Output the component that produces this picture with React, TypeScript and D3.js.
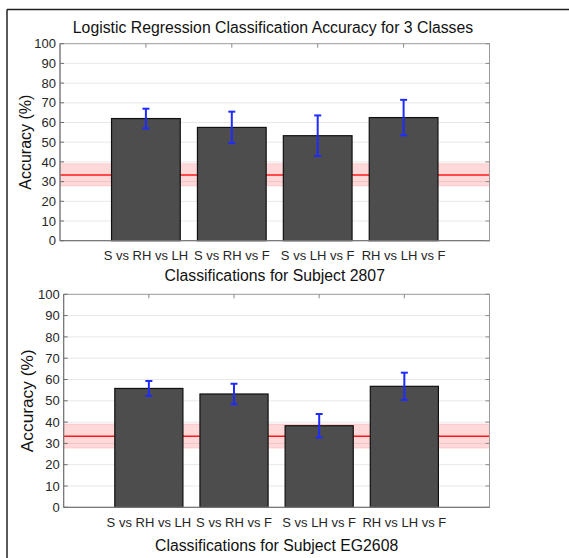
import React, { useEffect, useRef } from 'react';
import * as d3 from 'd3';

const categories = ['S vs RH vs LH', 'S vs RH vs F', 'S vs LH vs F', 'RH vs LH vs F'];
const yTicks = [0, 10, 20, 30, 40, 50, 60, 70, 80, 90, 100];

// subject 2807
const acc2807 = [62, 57.5, 53.3, 62.5];
const err2807 = [5, 8, 10.3, 9];
// subject EG2608
const accEG2608 = [55.8, 53.2, 38.3, 56.8];
const errEG2608 = [3.5, 4.8, 5.5, 6.4];

const chance = 33.33;
const chanceBand = [27.8, 39.1];

const FONT = '"Liberation Sans", Arial, sans-serif';

const App = () => {
    const ref = useRef<SVGSVGElement>(null);

    const panel = (svgCanvas, opts) => {
        const { left, right, top, bottom, values, errs, xLabel, xLabelY, tickY, yLabelX, labelSize, yLabelSize } = opts;

        const x = d3.scaleLinear().domain([0, categories.length + 1]).range([left, right]);
        const y = d3.scaleLinear().domain([0, 100]).range([bottom, top]);
        const step = x(1) - x(0);
        const bw = step * 0.8;

        const g = svgCanvas.append('g');

        g.append('rect')
            .attr('x', left).attr('y', top)
            .attr('width', right - left).attr('height', bottom - top)
            .attr('fill', '#fff');

        // grid
        g.selectAll('line.grid')
            .data(yTicks.slice(1, -1))
            .enter().append('line')
            .attr('class', 'grid')
            .attr('x1', left).attr('x2', right)
            .attr('y1', d => y(d)).attr('y2', d => y(d))
            .attr('stroke', '#e8e8e8').attr('stroke-width', 1);

        // chance band + line
        g.append('rect')
            .attr('x', left).attr('width', right - left)
            .attr('y', y(chanceBand[1])).attr('height', y(chanceBand[0]) - y(chanceBand[1]))
            .attr('fill', '#ff0000').attr('fill-opacity', 0.15)
            .attr('stroke', '#ff0000').attr('stroke-opacity', 0.12);
        g.append('line')
            .attr('x1', left).attr('x2', right)
            .attr('y1', y(chance)).attr('y2', y(chance))
            .attr('stroke', '#ff1a1a').attr('stroke-width', 1.5);

        // bars
        g.selectAll('rect.bar')
            .data(values)
            .enter().append('rect')
            .attr('class', 'bar')
            .attr('x', (d, i) => x(i + 1) - bw / 2)
            .attr('width', bw)
            .attr('y', d => y(d))
            .attr('height', d => y(0) - y(d))
            .attr('fill', '#4d4d4d')
            .attr('stroke', '#111').attr('stroke-width', 1.2);

        // error bars
        const eb = g.selectAll('g.err')
            .data(values.map((v, i) => ({ v, e: errs[i], i })))
            .enter().append('g').attr('class', 'err')
            .attr('stroke', '#1f2bff').attr('stroke-width', 2);
        eb.append('line')
            .attr('x1', d => x(d.i + 1)).attr('x2', d => x(d.i + 1))
            .attr('y1', d => y(d.v - d.e)).attr('y2', d => y(d.v + d.e));
        eb.append('line')
            .attr('x1', d => x(d.i + 1) - 3.5).attr('x2', d => x(d.i + 1) + 3.5)
            .attr('y1', d => y(d.v + d.e)).attr('y2', d => y(d.v + d.e));
        eb.append('line')
            .attr('x1', d => x(d.i + 1) - 3.5).attr('x2', d => x(d.i + 1) + 3.5)
            .attr('y1', d => y(d.v - d.e)).attr('y2', d => y(d.v - d.e));

        // box
        g.append('rect')
            .attr('x', left).attr('y', top)
            .attr('width', right - left).attr('height', bottom - top)
            .attr('fill', 'none').attr('stroke', '#9a9a9a').attr('stroke-width', 1);
        g.append('line')
            .attr('x1', left).attr('x2', left).attr('y1', top).attr('y2', bottom)
            .attr('stroke', '#6e6e6e');
        g.append('line')
            .attr('x1', left).attr('x2', right).attr('y1', bottom).attr('y2', bottom)
            .attr('stroke', '#6e6e6e');

        // ticks inward
        g.selectAll('line.ytl').data(yTicks).enter().append('line')
            .attr('x1', left).attr('x2', left + 4)
            .attr('y1', d => y(d)).attr('y2', d => y(d))
            .attr('stroke', '#6e6e6e');
        g.selectAll('line.ytr').data(yTicks).enter().append('line')
            .attr('x1', right - 4).attr('x2', right)
            .attr('y1', d => y(d)).attr('y2', d => y(d))
            .attr('stroke', '#8a8a8a');
        g.selectAll('line.xtt').data(categories).enter().append('line')
            .attr('x1', (d, i) => x(i + 1)).attr('x2', (d, i) => x(i + 1))
            .attr('y1', top).attr('y2', top + 4)
            .attr('stroke', '#8a8a8a');

        // tick labels
        g.selectAll('text.yt').data(yTicks).enter().append('text')
            .attr('x', left - 4).attr('y', d => y(d))
            .attr('dy', '0.36em')
            .attr('text-anchor', 'end')
            .style('font-size', '13px').style('fill', '#262626').style('font-family', FONT)
            .text(d => d);
        g.selectAll('text.xt').data(categories).enter().append('text')
            .attr('x', (d, i) => x(i + 1)).attr('y', tickY)
            .attr('text-anchor', 'middle')
            .style('font-size', '13px').style('fill', '#262626').style('font-family', FONT)
            .text(d => d);

        g.append('text')
            .attr('x', (left + right) / 2).attr('y', xLabelY)
            .attr('text-anchor', 'middle')
            .style('font-size', labelSize + 'px').style('fill', '#111').style('font-family', FONT)
            .text(xLabel);
        g.append('text')
            .attr('transform', `translate(${yLabelX}, ${(top + bottom) / 2}) rotate(-90)`)
            .attr('text-anchor', 'middle')
            .style('font-size', yLabelSize + 'px').style('fill', '#111').style('font-family', FONT)
            .text('Accuracy (%)');
    };

    const graph = () => {
        const svgCanvas = d3.select(ref.current);
        svgCanvas.selectAll('*').remove();

        // outer frame
        svgCanvas.append('line').attr('x1', 7).attr('x2', 569).attr('y1', 9.5).attr('y2', 9.5)
            .attr('stroke', '#222').attr('stroke-width', 1.5);
        svgCanvas.append('line').attr('x1', 7).attr('x2', 7).attr('y1', 9.5).attr('y2', 558)
            .attr('stroke', '#222').attr('stroke-width', 1.5);

        svgCanvas.append('text')
            .attr('x', 273).attr('y', 32.5)
            .attr('text-anchor', 'middle')
            .style('font-size', '15.8px').style('fill', '#111').style('font-family', FONT)
            .text('Logistic Regression Classification Accuracy for 3 Classes');

        panel(svgCanvas, {
            left: 60, right: 489.5, top: 43.7, bottom: 240.7,
            values: acc2807, errs: err2807,
            xLabel: 'Classifications for Subject 2807', xLabelY: 281, tickY: 259.5, yLabelX: 30.5,
            labelSize: 15.8, yLabelSize: 16,
        });
        panel(svgCanvas, {
            left: 63.7, right: 489.5, top: 294.3, bottom: 507.3,
            values: accEG2608, errs: errEG2608,
            xLabel: 'Classifications for Subject EG2608', xLabelY: 551, tickY: 527, yLabelX: 33,
            labelSize: 15.8, yLabelSize: 17.3,
        });
    };

    useEffect(() => graph());
    return (
        <svg ref={ref} width="569" height="558" style={{ position: 'absolute', left: 0, top: 0 }}></svg>
    );
};

export default App;
